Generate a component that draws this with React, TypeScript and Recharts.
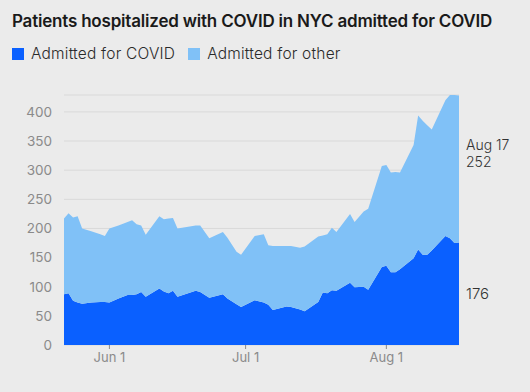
import { AreaChart, Area, XAxis, YAxis, CartesianGrid, ReferenceDot } from 'recharts';

document.body.style.margin = '0';

// dates where the outline changes direction
const dates = [
  '2023-05-22', '2023-05-23', '2023-05-24', '2023-05-25', '2023-05-26', '2023-05-28', '2023-05-30',
  '2023-05-31', '2023-06-01', '2023-06-03', '2023-06-05', '2023-06-06', '2023-06-07', '2023-06-08',
  '2023-06-09', '2023-06-12', '2023-06-13', '2023-06-14', '2023-06-15', '2023-06-16', '2023-06-20',
  '2023-06-21', '2023-06-23', '2023-06-26', '2023-06-27', '2023-06-29', '2023-06-30', '2023-07-03',
  '2023-07-05', '2023-07-06', '2023-07-07', '2023-07-10', '2023-07-11', '2023-07-13', '2023-07-14',
  '2023-07-17', '2023-07-18', '2023-07-19', '2023-07-20', '2023-07-21', '2023-07-24', '2023-07-25',
  '2023-07-27', '2023-07-28', '2023-07-31', '2023-08-01', '2023-08-02', '2023-08-03', '2023-08-04',
  '2023-08-07', '2023-08-08', '2023-08-09', '2023-08-10', '2023-08-11', '2023-08-14', '2023-08-15',
  '2023-08-16', '2023-08-17',
];

const admittedCovid = [
  87, 89, 76, 73, 71, 73, 74, 74, 73, 80, 86, 86, 87, 91, 83, 97, 92, 89, 93, 83, 93,
  91, 81, 87, 80, 70, 65, 77, 73, 69, 60, 66, 65, 61, 58, 74, 90, 89, 94, 93, 107, 99,
  100, 95, 134, 136, 125, 125, 130, 149, 164, 155, 155, 162, 187, 183, 175, 176,
];

const admittedOther = [
  130, 137, 143, 148, 129, 122, 116, 113, 127, 125, 125, 128, 120, 114, 106, 124, 124, 128, 125, 117, 112,
  114, 102, 107, 104, 90, 90, 110, 117, 102, 110, 104, 105, 106, 111, 112, 98, 101, 107, 101, 118, 112,
  129, 139, 173, 173, 171, 172, 166, 194, 230, 230, 222, 208, 233, 246, 254, 252,
];

const xTicks = ['2023-06-01', '2023-07-01', '2023-08-01'];
const yTicks = [0, 50, 100, 150, 200, 250, 300, 350, 400];

const DAY = 86400000;
const toDay = (s: string) => Date.parse(s) / DAY;
const monthNames = ['Jan', 'Feb', 'Mar', 'Apr', 'May', 'Jun', 'Jul', 'Aug', 'Sep', 'Oct', 'Nov', 'Dec'];

const data = dates.map((d, i) => ({
  day: toDay(d),
  covid: admittedCovid[i],
  other: admittedOther[i],
}));

const DARK = '#0a60ff';
const LIGHT = '#80c1f7';
const font = 'Inter, "Noto Sans", sans-serif';

const last = data.length - 1;
const lastDate = new Date(dates[last]);
const lastLabel = `${monthNames[lastDate.getUTCMonth()]} ${lastDate.getUTCDate()}`;

export default function App() {
  return (
    <div style={{ position: 'relative', width: 530, height: 392, background: '#ebebeb', fontFamily: font, overflow: 'hidden' }}>
      <div style={{ position: 'absolute', left: 12, top: 11, fontSize: 17, fontWeight: 600, color: '#1a1a1a', letterSpacing: -0.2, whiteSpace: 'nowrap' }}>
        Patients hospitalized with COVID in NYC admitted for COVID
      </div>
      <div style={{ position: 'absolute', left: 12, top: 44, display: 'flex', alignItems: 'center', fontSize: 15.5, fontWeight: 300, color: '#2a2a2a', letterSpacing: 0.2 }}>
        <span style={{ width: 12, height: 12, background: DARK, display: 'inline-block', marginRight: 7 }} />
        <span style={{ marginRight: 13 }}>Admitted for COVID</span>
        <span style={{ width: 12, height: 12, background: LIGHT, display: 'inline-block', marginRight: 7 }} />
        <span>Admitted for other</span>
      </div>
      <div style={{ position: 'absolute', left: 0, top: 0 }}>
        <AreaChart width={530} height={392} data={data} margin={{ top: 95, right: 71, bottom: 0, left: 8 }}>
          <CartesianGrid vertical={false} stroke="#d9d9d9" />
          <XAxis
            dataKey="day"
            type="number"
            domain={['dataMin', 'dataMax']}
            ticks={xTicks.map(toDay)}
            tickFormatter={(v: number) => {
              const d = new Date(v * DAY);
              return `${monthNames[d.getUTCMonth()]} ${d.getUTCDate()}`;
            }}
            axisLine={false}
            tickSize={4}
            tickMargin={4}
            height={47}
            tick={{ fill: '#8a8a8a', fontSize: 13, fontFamily: font }}
            tickLine={{ stroke: '#8a8a8a' }}
          />
          <YAxis
            type="number"
            domain={[0, 'dataMax']}
            ticks={yTicks}
            axisLine={false}
            tickLine={false}
            tickSize={6}
            tickMargin={6}
            width={56}
            tick={{ fill: '#8a8a8a', fontSize: 13.5, fontFamily: font }}
          />
          <Area type="linear" dataKey="covid" stackId="a" fill={DARK} fillOpacity={1} stroke="none" isAnimationActive={false} />
          <Area type="linear" dataKey="other" stackId="a" fill={LIGHT} fillOpacity={1} stroke="none" isAnimationActive={false} />
          <ReferenceDot
            x={data[last].day}
            y={admittedCovid[last] / 2}
            r={0}
            ifOverflow="visible"
            shape={(p: any) => (
              <text x={p.cx + 7} y={p.cy + 5} fill="#333" fontSize={15} fontFamily={font} fontWeight={300}>
                {admittedCovid[last]}
              </text>
            )}
          />
          <ReferenceDot
            x={data[last].day}
            y={admittedCovid[last] + admittedOther[last] / 2}
            r={0}
            ifOverflow="visible"
            shape={(p: any) => (
              <text x={p.cx + 7} y={p.cy} fill="#333" fontSize={14} fontFamily={font} fontWeight={300}>
                <tspan x={p.cx + 7} dy={-19}>{lastLabel}</tspan>
                <tspan x={p.cx + 7} dy={17}>{admittedOther[last]}</tspan>
              </text>
            )}
          />
        </AreaChart>
      </div>
    </div>
  );
}
